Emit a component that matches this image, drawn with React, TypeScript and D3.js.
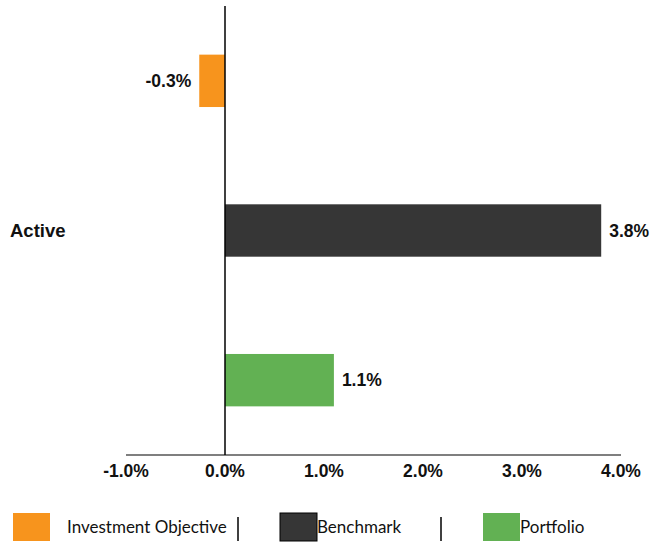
import React from "react";
import * as d3 from "d3";

// Active return by series
const seriesNames = ["Investment Objective", "Benchmark", "Portfolio"];
const activeValues = [-0.26, 3.8, 1.1];
const seriesColors = ["#f7941d", "#363636", "#62b153"];
const rowLabel = "Active";
const tickValues = [-1, 0, 1, 2, 3, 4];

const W = 652;
const H = 543;

const fmt = (v: number) => `${v.toFixed(1)}%`;

export default function App() {
  const x = d3.scaleLinear().domain([-1, 4]).range([126, 621]);
  const y = d3
    .scaleBand<string>()
    .domain(seriesNames)
    .range([6, 455])
    .paddingInner(0.65)
    .paddingOuter(0.325);

  const x0 = x(0);
  const labelFont = "'Liberation Sans', Arial, sans-serif";

  // legend layout: box x, text x, separator x
  const legendItems = [
    { box: 13, text: 67, sep: 238 },
    { box: 280, text: 317, sep: 441 },
    { box: 483, text: 520, sep: null as number | null },
  ];

  return (
    <svg
      width={W}
      height={H}
      style={{ position: "absolute", left: 0, top: 0, background: "#fff" }}
    >
      {/* bars */}
      {seriesNames.map((name, i) => {
        const v = activeValues[i];
        const xv = x(v);
        const yb = y(name)!;
        return (
          <g key={name}>
            <rect
              x={Math.min(x0, xv)}
              y={yb}
              width={Math.abs(xv - x0)}
              height={y.bandwidth()}
              fill={seriesColors[i]}
            />
            <text
              x={v < 0 ? xv - 8 : xv + 8}
              y={yb + y.bandwidth() / 2}
              dy="0.35em"
              textAnchor={v < 0 ? "end" : "start"}
              fontFamily={labelFont}
              fontWeight="bold"
              fontSize={17.5}
              fill="#111"
            >
              {fmt(v)}
            </text>
          </g>
        );
      })}

      {/* zero line */}
      <line x1={x0} x2={x0} y1={6} y2={455} stroke="#000" strokeWidth={1.5} />

      {/* x axis */}
      <line x1={x(-1)} x2={x(4)} y1={455} y2={455} stroke="#000" strokeWidth={1.2} />
      {tickValues.map((t) => (
        <text
          key={t}
          x={x(t)}
          y={477}
          textAnchor="middle"
          fontFamily={labelFont}
          fontWeight="bold"
          fontSize={17.5}
          fill="#111"
        >
          {fmt(t)}
        </text>
      ))}

      {/* category label */}
      <text
        x={10}
        y={(6 + 455) / 2}
        dy="0.35em"
        fontFamily={labelFont}
        fontWeight="bold"
        fontSize={18.5}
        fill="#111"
      >
        {rowLabel}
      </text>

      {/* legend */}
      {seriesNames.map((name, i) => {
        const it = legendItems[i];
        return (
          <g key={"lg" + name}>
            <rect
              x={it.box}
              y={513}
              width={37}
              height={28}
              fill={seriesColors[i]}
              stroke={i === 1 ? "#000" : "none"}
              strokeWidth={1}
            />
            <text
              x={it.text}
              y={527}
              dy="0.35em"
              fontFamily="Lato, 'Open Sans', sans-serif"
              fontSize={17}
              fill="#111"
            >
              {name}
            </text>
            {it.sep !== null && (
              <line
                x1={it.sep}
                x2={it.sep}
                y1={517}
                y2={541}
                stroke="#000"
                strokeWidth={1.5}
              />
            )}
          </g>
        );
      })}
    </svg>
  );
}
